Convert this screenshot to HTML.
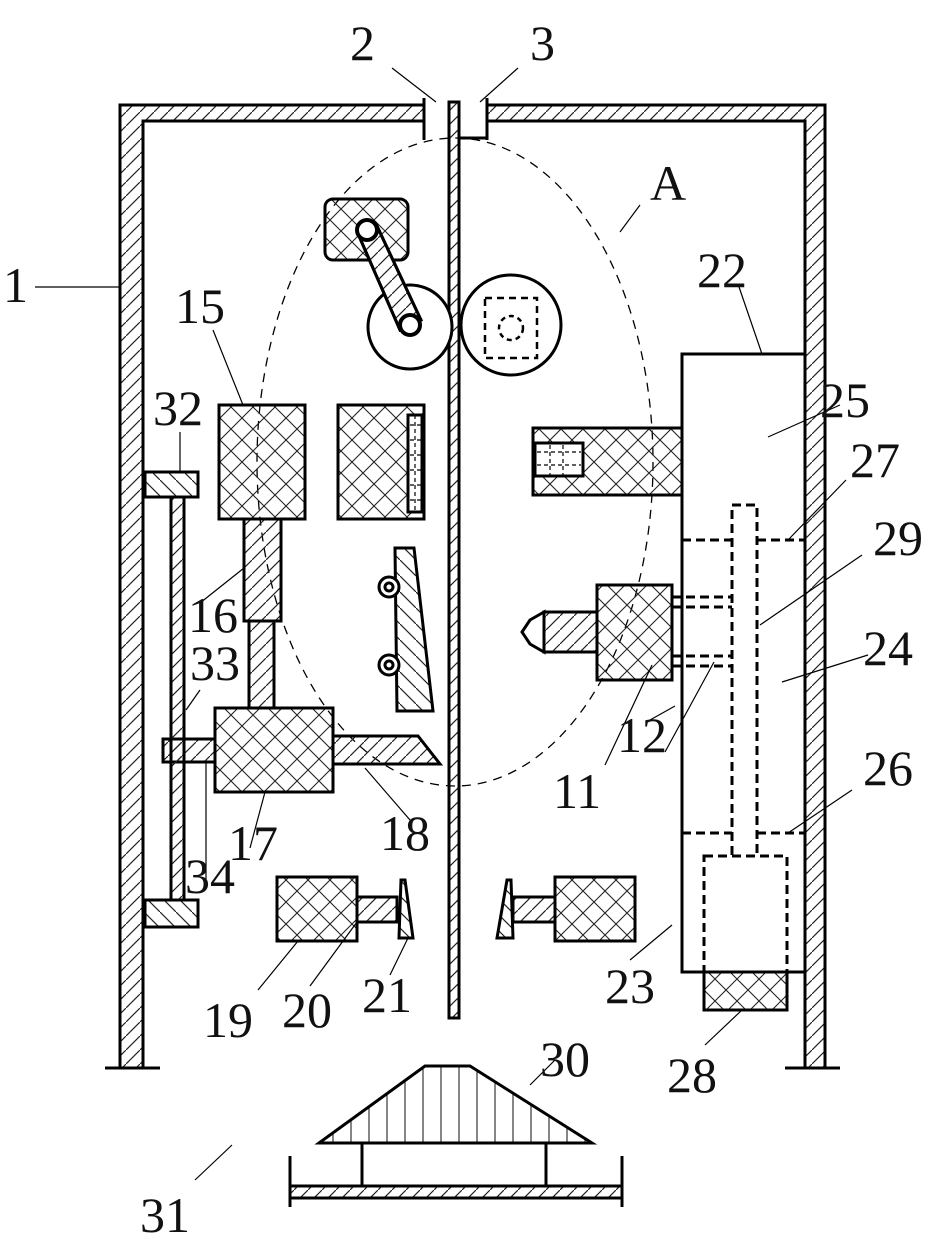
<!DOCTYPE html>
<html><head><meta charset="utf-8"><style>
html,body{margin:0;padding:0;background:#fff;}
svg{display:block;}
text{font-family:"Liberation Serif",serif;font-size:50px;fill:#111;}
</style></head><body>
<svg width="943" height="1239" viewBox="0 0 943 1239" xmlns="http://www.w3.org/2000/svg">
<defs>
<pattern id="d" width="14" height="14" patternUnits="userSpaceOnUse"><path d="M-2,16 L16,-2" stroke="#222" stroke-width="1.2"/></pattern>
<pattern id="db" width="16" height="16" patternUnits="userSpaceOnUse"><path d="M-2,-2 L18,18" stroke="#222" stroke-width="1.2"/></pattern>
<pattern id="x" width="22" height="22" patternUnits="userSpaceOnUse"><path d="M0,0 L22,22 M22,0 L0,22" stroke="#222" stroke-width="1.1"/></pattern>
<pattern id="v" width="18" height="10" patternUnits="userSpaceOnUse"><path d="M9,0 V10" stroke="#222" stroke-width="1.1"/></pattern>
</defs>
<g stroke="#000" stroke-width="3" fill="none">
<!-- walls -->
<path d="M120,1068 V105 H424 V121 H143 V1068 Z" fill="url(#d)"/>
<path d="M825,1068 V105 H487 V121 H805 V1068 Z" fill="url(#d)"/>
<path d="M105,1068 H160 M785,1068 H840"/>
<path d="M424,98 V140 M487,98 V140 M459,138 H487" />
<rect x="449" y="102" width="10" height="916" fill="url(#d)"/>
<!-- dashed ellipse A -->
<ellipse cx="455" cy="462" rx="198" ry="324" stroke-width="1.3" stroke-dasharray="9,7"/>
<!-- crank -->
<rect x="325" y="199" width="83" height="61" rx="8" fill="url(#x)"/>
<circle cx="410" cy="327" r="42" fill="#fff"/>
<path d="M359,236 L400,330 L421,320 L377,226 Z" fill="#fff"/>
<path d="M359,236 L400,330 L421,320 L377,226 Z" fill="url(#d)"/>
<circle cx="367" cy="230" r="10" fill="#fff" stroke-width="4"/>
<circle cx="410" cy="325" r="10" fill="#fff" stroke-width="4"/>
<circle cx="511" cy="325" r="50"/>
<rect x="485" y="298" width="52" height="60" stroke-dasharray="7,5" stroke-width="2.5"/>
<circle cx="511" cy="328" r="12" stroke-dasharray="5,4" stroke-width="2.5"/>
<!-- 15,16 -->
<rect x="219" y="405" width="86" height="114" fill="url(#x)"/>
<rect x="244" y="519" width="37" height="102" fill="url(#d)"/>
<rect x="249" y="621" width="25" height="87" fill="url(#d)"/>
<rect x="338" y="405" width="86" height="114" fill="url(#x)"/>
<rect x="408" y="415" width="14" height="97" fill="#fff"/>
<path d="M410,425 H422 M410,440 H422 M410,455 H422 M410,470 H422 M410,485 H422 M410,500 H422 M415,415 V512" stroke-width="1.2" stroke-dasharray="4,3"/>
<!-- wedge with nuts -->
<path d="M395,548 L414,548 L433,711 L397,711 Z" fill="url(#db)"/>
<circle cx="389" cy="587" r="10" fill="#fff"/><circle cx="389" cy="587" r="4"/>
<circle cx="389" cy="665" r="10" fill="#fff"/><circle cx="389" cy="665" r="4"/>
<!-- 17,18,34 -->
<rect x="215" y="708" width="118" height="84" fill="url(#x)"/>
<path d="M333,736 H418 L440,764 H333 Z" fill="url(#d)"/>
<rect x="163" y="739" width="52" height="23" fill="url(#d)"/>
<!-- rod 33 and 32 -->
<rect x="171" y="497" width="13" height="403" fill="url(#d)"/>
<rect x="145" y="472" width="53" height="25" fill="url(#db)"/>
<rect x="145" y="900" width="53" height="27" fill="url(#db)"/>
<!-- bottom clamps -->
<rect x="277" y="877" width="80" height="64" fill="url(#x)"/>
<rect x="357" y="897" width="40" height="25" fill="url(#d)"/>
<path d="M401,880 L405,880 L413,938 L399,938 Z" fill="url(#db)"/>
<rect x="555" y="877" width="80" height="64" fill="url(#x)"/>
<rect x="513" y="897" width="42" height="25" fill="url(#d)"/>
<path d="M507,880 L511,880 L513,938 L497,938 Z" fill="url(#db)"/>
<!-- right unit -->
<rect x="682" y="354" width="123" height="618" fill="#fff"/>
<rect x="533" y="428" width="149" height="67" fill="url(#x)"/>
<rect x="535" y="443" width="48" height="33" fill="#fff"/>
<path d="M537,452 H581 M537,465 H581 M550,445 V475 M563,445 V475" stroke-width="1.2" stroke-dasharray="4,3"/>
<rect x="597" y="585" width="75" height="95" fill="url(#x)"/>
<path d="M544,612 H597 V652 H544 Z" fill="url(#d)"/>
<path d="M544,612 L530,620 L522,632 L530,644 L544,652 Z" fill="#fff"/>
<g stroke-dasharray="9,5" stroke-width="3">
<path d="M682,540 H732 M757,540 H805 M682,833 H732 M757,833 H805"/>
<path d="M732,855 V505 H757 V855"/>
<path d="M672,597 H732 M672,607 H732 M672,656 H732 M672,666 H732"/>
<rect x="704" y="856" width="83" height="116"/>
</g>
<rect x="704" y="972" width="83" height="38" fill="url(#x)"/>
<!-- 30 -->
<path d="M319,1143 L425,1066 H470 L592,1143 Z" fill="url(#v)"/>
<path d="M362,1143 V1186 M546,1143 V1186"/>
<rect x="290" y="1186" width="332" height="12" fill="url(#d)"/>
<path d="M290,1156 V1207 M622,1156 V1207"/>
</g>
<!-- leaders -->
<g stroke="#000" stroke-width="1.2" fill="none">
<path d="M35,287 H120 M392,68 L436,102 M518,68 L480,102 M640,205 L620,232 M738,284 L762,354 M840,405 L768,437 M846,480 L788,540 M862,555 L760,625 M868,655 L782,682 M852,790 L788,833 M675,706 L650,720 M665,752 L714,662 M605,765 L652,665 M213,330 L243,405 M180,432 V472 M200,603 L244,568 M200,690 L186,710 M206,880 V762 M250,848 L265,792 M410,820 L365,768 M258,990 L298,941 M310,986 L357,922 M390,975 L408,938 M630,960 L672,925 M705,1045 L742,1010 M555,1060 L530,1085 M195,1180 L232,1145"/>
</g>
<text x="3" y="302">1</text>
<text x="350" y="60">2</text>
<text x="530" y="60">3</text>
<text x="650" y="200">A</text>
<text x="697" y="287">22</text>
<text x="820" y="417">25</text>
<text x="850" y="477">27</text>
<text x="873" y="555">29</text>
<text x="863" y="665">24</text>
<text x="863" y="785">26</text>
<text x="617" y="752">12</text>
<text x="553" y="808">11</text>
<text x="175" y="323">15</text>
<text x="153" y="425">32</text>
<text x="188" y="632">16</text>
<text x="190" y="680">33</text>
<text x="185" y="893">34</text>
<text x="228" y="860">17</text>
<text x="380" y="850">18</text>
<text x="203" y="1037">19</text>
<text x="282" y="1027">20</text>
<text x="362" y="1012">21</text>
<text x="605" y="1003">23</text>
<text x="667" y="1092">28</text>
<text x="540" y="1076">30</text>
<text x="140" y="1232">31</text>
</svg>
</body></html>
